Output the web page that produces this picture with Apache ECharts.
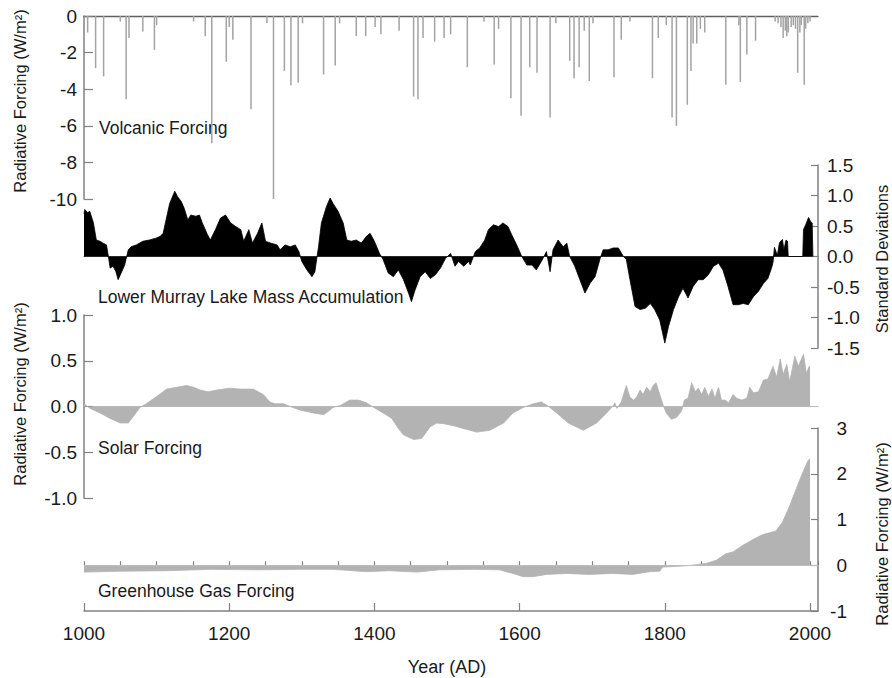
<!DOCTYPE html>
<html><head><meta charset="utf-8">
<script src="https://cdn.jsdelivr.net/npm/echarts@6/dist/echarts.min.js"></script>
<style>html,body{margin:0;padding:0;background:#fff}#c{width:892px;height:678px}</style>
</head><body><div id="c"></div>
<script>
// ---- Data ----
const xTickLabels = [1000, 1200, 1400, 1600, 1800, 2000];

const volcanicYears = [1005,1016,1027,1050,1058,1062,1081,1097,1100,1151,1167,1176,1196,1200,1205,1230,1252,1261,1276,1285,1295,1301,1330,1346,1352,1375,1388,1401,1409,1434,1454,1460,1467,1483,1496,1505,1528,1551,1565,1571,1588,1602,1614,1624,1642,1650,1669,1675,1682,1689,1696,1701,1730,1740,1752,1783,1791,1802,1810,1816,1831,1836,1839,1844,1849,1855,1884,1902,1904,1913,1925,1952,1956,1960,1963,1966,1968,1970,1974,1977,1980,1983,1986,1988,1992,1994,1997,2000];
const volcanicValues = [-0.9,-2.85,-3.3,-0.3,-4.55,-1.2,-0.85,-1.85,-0.5,-0.3,-1.1,-6.95,-2.5,-0.6,-1.3,-5.1,-0.4,-10,-3.0,-3.8,-3.65,-0.4,-3.2,-2.7,-0.4,-1.1,-1.1,-0.6,-1.0,-0.8,-4.4,-4.55,-1.2,-1.4,-1.2,-1.0,-2.8,-0.3,-2.65,-0.7,-4.5,-5.45,-2.8,-3.1,-5.55,-0.4,-2.45,-3.4,-2.8,-0.8,-3.55,-0.4,-3.35,-1.3,-0.3,-3.4,-1.2,-0.5,-5.55,-6.0,-4.85,-3.0,-1.5,-1.5,-0.7,-0.9,-3.75,-0.5,-3.6,-2.1,-1.35,-0.3,-0.4,-0.6,-1.2,-0.8,-1.1,-0.9,-0.6,-0.5,-0.7,-3.1,-0.9,-0.5,-3.75,-0.7,-0.4,-0.3];

const lakeYears = [1000,1001,1005,1008,1013,1017,1022,1026,1031,1034,1036,1040,1044,1047,1052,1056,1061,1065,1072,1081,1090,1099,1105,1109,1113,1118,1125,1129,1134,1138,1143,1147,1154,1159,1163,1170,1174,1181,1188,1195,1202,1209,1216,1220,1227,1232,1239,1245,1250,1257,1266,1270,1277,1284,1291,1296,1300,1307,1314,1318,1323,1327,1334,1339,1343,1350,1357,1362,1368,1375,1382,1389,1394,1400,1407,1412,1419,1426,1433,1440,1447,1451,1456,1463,1470,1477,1484,1491,1498,1505,1511,1516,1523,1530,1532,1539,1545,1552,1557,1564,1571,1577,1584,1589,1596,1603,1610,1617,1623,1630,1637,1642,1646,1653,1660,1665,1669,1676,1683,1690,1697,1704,1711,1715,1722,1729,1736,1743,1747,1752,1759,1766,1773,1780,1786,1793,1800,1805,1812,1819,1825,1832,1839,1846,1853,1860,1867,1874,1880,1887,1894,1901,1908,1915,1922,1929,1936,1942,1947,1949,1951,1955,1958,1962,1964,1967,1969,1970,1990,1991,1994,1998,2001,2003,2004];
const lakeValues = [0.7,0.77,0.72,0.74,0.55,0.27,0.25,0.22,0.19,-0.03,-0.19,-0.16,-0.25,-0.38,-0.25,-0.14,0.11,0.16,0.19,0.25,0.27,0.30,0.33,0.38,0.6,0.87,1.07,0.98,0.9,0.79,0.6,0.68,0.66,0.68,0.55,0.36,0.27,0.44,0.63,0.68,0.55,0.49,0.44,0.25,0.44,0.22,0.38,0.55,0.25,0.22,0.19,0.11,0.19,0.16,0.19,0.08,-0.08,-0.22,-0.33,-0.25,0.16,0.55,0.82,0.96,0.87,0.74,0.55,0.27,0.25,0.27,0.22,0.33,0.38,0.25,0.05,-0.05,-0.27,-0.33,-0.22,-0.38,-0.6,-0.74,-0.55,-0.33,-0.25,-0.36,-0.30,-0.19,-0.03,0.05,-0.16,-0.08,-0.16,-0.08,-0.14,0.08,0.14,0.27,0.44,0.52,0.49,0.55,0.49,0.36,0.19,0,-0.14,-0.14,-0.22,-0.08,0.08,-0.25,0.11,0.27,0.16,0.22,0,-0.16,-0.38,-0.6,-0.44,-0.33,-0.03,0.11,0.11,0.14,0.14,0,-0.05,-0.38,-0.82,-0.87,-0.85,-0.77,-0.87,-1.04,-1.42,-1.15,-0.87,-0.66,-0.52,-0.68,-0.49,-0.38,-0.38,-0.30,-0.16,-0.11,-0.22,-0.49,-0.79,-0.79,-0.77,-0.79,-0.66,-0.57,-0.44,-0.36,-0.19,-0.1,0.15,0.02,0.23,0.28,0.11,0.27,0.25,0,0,0.44,0.52,0.64,0.57,0.55,0];

const solarYears = [1000,1008,1022,1036,1050,1061,1068,1077,1086,1100,1114,1128,1141,1151,1160,1171,1183,1201,1215,1233,1247,1256,1263,1275,1284,1298,1316,1330,1337,1343,1353,1366,1378,1389,1399,1412,1424,1433,1440,1454,1465,1477,1486,1497,1509,1527,1541,1559,1578,1591,1605,1619,1630,1640,1651,1667,1688,1706,1720,1729,1731,1734,1740,1747,1752,1757,1761,1766,1770,1775,1780,1784,1788,1793,1798,1802,1809,1816,1823,1827,1832,1837,1842,1846,1851,1855,1860,1865,1869,1874,1878,1883,1888,1894,1899,1906,1913,1917,1922,1929,1936,1942,1949,1954,1959,1963,1968,1972,1979,1984,1991,1995,1999,2000];
const solarValues = [0.03,-0.02,-0.07,-0.13,-0.18,-0.18,-0.11,-0.01,0.03,0.11,0.19,0.21,0.23,0.21,0.18,0.16,0.18,0.20,0.19,0.19,0.13,0.05,0.03,0.03,0,-0.04,-0.07,-0.09,-0.05,-0.01,0.01,0.07,0.07,0.04,-0.01,-0.07,-0.13,-0.24,-0.31,-0.36,-0.35,-0.22,-0.18,-0.19,-0.21,-0.25,-0.28,-0.26,-0.18,-0.07,-0.01,0.03,0.05,0,-0.07,-0.18,-0.26,-0.18,-0.07,0.01,0.04,-0.02,0.05,0.23,0.10,0.07,0.10,0.18,0.13,0.21,0.16,0.23,0.26,0.13,0.01,-0.07,-0.14,-0.12,-0.05,0.07,0.09,0.26,0.16,0.20,0.13,0.21,0.11,0.19,0.09,0.21,0.07,0.07,0.04,0.13,0.09,0.07,0.09,0.21,0.15,0.16,0.29,0.30,0.44,0.32,0.52,0.35,0.46,0.27,0.55,0.44,0.57,0.36,0.44,0.44];

const ghgYears = [1000,1050,1114,1175,1240,1300,1343,1389,1420,1459,1490,1536,1572,1591,1605,1618,1637,1664,1696,1728,1756,1779,1793,1797,1820,1838,1857,1871,1884,1894,1907,1921,1935,1944,1953,1962,1972,1981,1990,1997,2000];
const ghgValues = [-0.15,-0.13,-0.12,-0.09,-0.10,-0.09,-0.09,-0.14,-0.12,-0.15,-0.10,-0.09,-0.10,-0.18,-0.25,-0.25,-0.20,-0.18,-0.20,-0.18,-0.20,-0.14,-0.13,-0.04,-0.02,0,0.04,0.11,0.25,0.29,0.43,0.56,0.67,0.71,0.75,0.94,1.3,1.67,2.03,2.28,2.33];

// ---- Chart ----
const zip = (a, b) => a.map((v, i) => [v, b[i]]);
const FONT = "'Liberation Sans', Arial, sans-serif";
const AXIS = '#808080';
const X_MIN = 1000, X_MAX = 2011;
const G = { left: 84, width: 734, height: 183 };

function hiddenX(grid, extra) {
  return Object.assign({
    type: 'value', gridIndex: grid, min: X_MIN, max: X_MAX,
    axisTick: { show: false }, axisLabel: { show: false }, splitLine: { show: false }
  }, extra);
}
function yAx(grid, pos, min, max, interval, tickLen, labelExtra) {
  return {
    type: 'value', gridIndex: grid, position: pos, min, max, interval,
    axisLine: { show: true, lineStyle: { color: AXIS, width: 1.5 } },
    axisTick: { show: true, inside: true, length: tickLen, lineStyle: { color: AXIS, width: 1.2 } },
    splitLine: { show: false },
    axisLabel: Object.assign({ fontSize: 19, fontFamily: FONT, color: '#1a1a1a' }, labelExtra)
  };
}
const fix1 = v => v.toFixed(1);

const chart = echarts.init(document.getElementById('c'), null, { renderer: 'svg' });
chart.setOption({
  animation: false,
  backgroundColor: '#fff',
  grid: [
    Object.assign({ top: 16 }, G),
    Object.assign({ top: 165 }, G),
    Object.assign({ top: 315 }, G),
    Object.assign({ top: 428 }, G),
    Object.assign({ top: 428 }, G)
  ],
  xAxis: [
    hiddenX(0, { position: 'top', axisLine: { show: true, onZero: false, lineStyle: { color: '#606060', width: 1.3 } } }),
    hiddenX(1, { axisLine: { show: true, onZero: true, lineStyle: { color: '#505050', width: 1 } } }),
    hiddenX(2, { axisLine: { show: true, onZero: true, lineStyle: { color: '#bdbdbd', width: 1.2 } } }),
    {
      type: 'value', gridIndex: 3, position: 'bottom', min: X_MIN, max: X_MAX, interval: 200,
      axisLine: { show: true, onZero: false, lineStyle: { color: AXIS, width: 1.5 } },
      axisTick: { show: true, inside: true, length: 8, lineStyle: { color: AXIS, width: 1.2 } },
      splitLine: { show: false },
      axisLabel: {
        fontSize: 19, fontFamily: FONT, color: '#1a1a1a', margin: 13, showMaxLabel: false,
        formatter: v => (xTickLabels.indexOf(v) >= 0 ? String(v) : '')
      }
    },
    hiddenX(4, {
      interval: 50, axisLine: { show: false },
      axisTick: { show: true, inside: true, length: 4, lineStyle: { color: AXIS, width: 1.2 } }
    })
  ],
  yAxis: [
    yAx(0, 'left', -10, 0, 2, 9, { margin: 7 }),
    yAx(1, 'right', -1.5, 1.5, 0.5, 7, { margin: 9, formatter: fix1 }),
    yAx(2, 'left', -1, 1, 0.5, 9, { margin: 7, formatter: fix1 }),
    yAx(3, 'right', -1, 3, 1, 7, { margin: 29, align: 'right' }),
    { type: 'value', gridIndex: 4, min: -1, max: 3, show: false }
  ],
  series: [
    {
      name: 'Volcanic Forcing', type: 'bar', xAxisIndex: 0, yAxisIndex: 0,
      data: zip(volcanicYears, volcanicValues), barWidth: 1.5, silent: true,
      itemStyle: { color: '#a3a3a3' }
    },
    {
      name: 'Lower Murray Lake Mass Accumulation', type: 'line', xAxisIndex: 1, yAxisIndex: 1,
      data: zip(lakeYears, lakeValues), symbol: 'none', silent: true,
      lineStyle: { color: '#000', width: 0.8 },
      areaStyle: { color: '#000', opacity: 1, origin: 0 }
    },
    {
      name: 'Solar Forcing', type: 'line', xAxisIndex: 2, yAxisIndex: 2,
      data: zip(solarYears, solarValues), symbol: 'none', silent: true,
      lineStyle: { color: '#b3b3b3', width: 0.8 },
      areaStyle: { color: '#b3b3b3', opacity: 1, origin: 0 }
    },
    {
      name: 'Greenhouse Gas Forcing', type: 'line', xAxisIndex: 3, yAxisIndex: 3,
      data: zip(ghgYears, ghgValues), symbol: 'none', silent: true,
      lineStyle: { color: '#b3b3b3', width: 0.8 },
      areaStyle: { color: '#b3b3b3', opacity: 1, origin: 0 },
      markLine: {
        silent: true, symbol: 'none', label: { show: false },
        lineStyle: { color: '#bdbdbd', type: 'solid', width: 1.2 },
        data: [{ yAxis: 0 }]
      }
    }
  ],
  graphic: [
    { type: 'text', x: 99, y: 128, style: { text: 'Volcanic Forcing', fontSize: 17.5, fontFamily: FONT, fill: '#1a1a1a', align: 'left', verticalAlign: 'middle' } },
    { type: 'text', x: 98, y: 297, style: { text: 'Lower Murray Lake Mass Accumulation', fontSize: 17.5, fontFamily: FONT, fill: '#1a1a1a', align: 'left', verticalAlign: 'middle' } },
    { type: 'text', x: 98, y: 448, style: { text: 'Solar Forcing', fontSize: 17.5, fontFamily: FONT, fill: '#1a1a1a', align: 'left', verticalAlign: 'middle' } },
    { type: 'text', x: 98, y: 591, style: { text: 'Greenhouse Gas Forcing', fontSize: 17.5, fontFamily: FONT, fill: '#1a1a1a', align: 'left', verticalAlign: 'middle' } },
    { type: 'text', x: 447, y: 667, style: { text: 'Year (AD)', fontSize: 18, fontFamily: FONT, fill: '#1a1a1a', align: 'center', verticalAlign: 'middle' } },
    { type: 'text', x: 20, y: 101, rotation: Math.PI / 2, style: { text: 'Radiative Forcing (W/m²)', fontSize: 16.5, fontFamily: FONT, fill: '#1a1a1a', align: 'center', verticalAlign: 'middle' } },
    { type: 'text', x: 20, y: 394, rotation: Math.PI / 2, style: { text: 'Radiative Forcing (W/m²)', fontSize: 16.5, fontFamily: FONT, fill: '#1a1a1a', align: 'center', verticalAlign: 'middle' } },
    { type: 'text', x: 882, y: 259, rotation: Math.PI / 2, style: { text: 'Standard Deviations', fontSize: 16.5, fontFamily: FONT, fill: '#1a1a1a', align: 'center', verticalAlign: 'middle' } },
    { type: 'text', x: 882, y: 534, rotation: Math.PI / 2, style: { text: 'Radiative Forcing (W/m²)', fontSize: 16.5, fontFamily: FONT, fill: '#1a1a1a', align: 'center', verticalAlign: 'middle' } }
  ]
});
</script>
</body></html>
